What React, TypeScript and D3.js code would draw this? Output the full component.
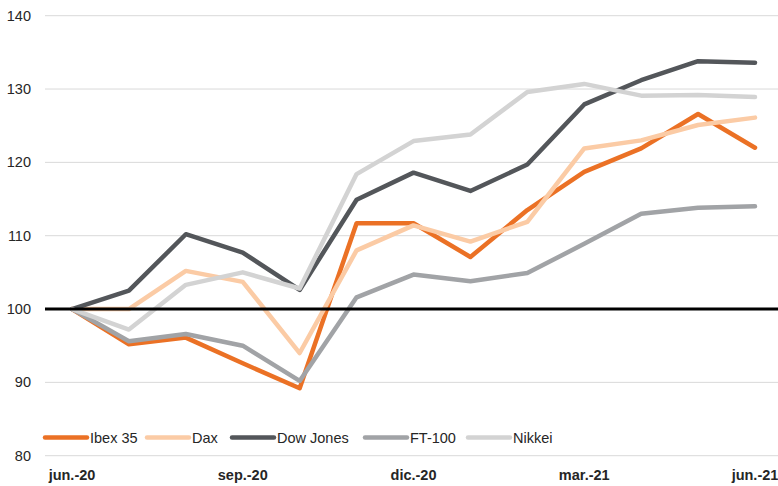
import React from "react";
import * as d3 from "d3";

const months = [
  "jun.-20", "jul.-20", "ago.-20", "sep.-20", "oct.-20", "nov.-20", "dic.-20",
  "ene.-21", "feb.-21", "mar.-21", "abr.-21", "may.-21", "jun.-21",
];
const tickLabels = ["jun.-20", "sep.-20", "dic.-20", "mar.-21", "jun.-21"];
const yTicks = [80, 90, 100, 110, 120, 130, 140];

const ibex = [100, 95.2, 96.1, 92.6, 89.2, 111.7, 111.7, 107.1, 113.5, 118.7, 121.9, 126.6, 122.0];
const dax = [100, 100, 105.2, 103.7, 94.0, 108.0, 111.4, 109.2, 111.9, 121.9, 123.0, 125.1, 126.1];
const dow = [100, 102.5, 110.2, 107.7, 102.6, 114.9, 118.6, 116.1, 119.7, 127.9, 131.2, 133.8, 133.6];
const ft100 = [100, 95.6, 96.6, 95.0, 90.2, 101.6, 104.7, 103.8, 104.9, 108.9, 113.0, 113.8, 114.0];
const nikkei = [100, 97.2, 103.3, 105.0, 102.8, 118.4, 122.9, 123.8, 129.6, 130.7, 129.1, 129.2, 128.9];

const seriesNames = ["Ibex 35", "Dax", "Dow Jones", "FT-100", "Nikkei"];
const seriesValues = [ibex, dax, dow, ft100, nikkei];
const colors = ["#EB7125", "#FBCBA5", "#53565A", "#A1A3A6", "#D3D3D3"];

const W = 778;
const H = 486;

export default function App() {
  const x = d3.scalePoint<string>().domain(months).range([72, 755]);
  const y = d3.scaleLinear().domain([80, 140]).range([455.7, 15.7]);

  const line = d3
    .line<number>()
    .x((_, i) => x(months[i]) as number)
    .y((d) => y(d));

  // legend layout: sample line start positions
  const legendX = [45, 147, 232, 365, 468];
  const legendY = 437.5;

  return (
    <div style={{ position: "absolute", left: 0, top: 0 }}>
      <svg width={W} height={H} style={{ display: "block" }} fontFamily="'Liberation Sans', Arial, sans-serif">
        <rect width={W} height={H} fill="#fff" />
        {yTicks.map((t) =>
          t === 100 ? null : (
            <line key={t} x1={45} x2={W} y1={y(t)} y2={y(t)} stroke="#D9D9D9" strokeWidth={1} />
          )
        )}
        {yTicks.map((t) => (
          <text key={"l" + t} x={31} y={y(t)} dy="0.35em" textAnchor="end" fontSize={14.5} fill="#262626">
            {t}
          </text>
        ))}
        {seriesValues.map((vals, i) => (
          <path
            key={seriesNames[i]}
            d={line(vals) as string}
            fill="none"
            stroke={colors[i]}
            strokeWidth={4.5}
            strokeLinejoin="round"
            strokeLinecap="round"
          />
        ))}
        <line x1={45} x2={W} y1={y(100)} y2={y(100)} stroke="#000" strokeWidth={3} />
        {tickLabels.map((m) => (
          <text key={m} x={x(m) as number} y={480} textAnchor="middle" fontSize={14.5} fontWeight="bold" fill="#262626">
            {m}
          </text>
        ))}
        {seriesNames.map((name, i) => (
          <g key={"lg" + name}>
            <line
              x1={legendX[i]}
              x2={legendX[i] + 42}
              y1={legendY}
              y2={legendY}
              stroke={colors[i]}
              strokeWidth={4.5}
              strokeLinecap="round"
            />
            <text x={legendX[i] + 45} y={legendY} dy="0.35em" fontSize={14.5} fill="#262626">
              {name}
            </text>
          </g>
        ))}
      </svg>
    </div>
  );
}
